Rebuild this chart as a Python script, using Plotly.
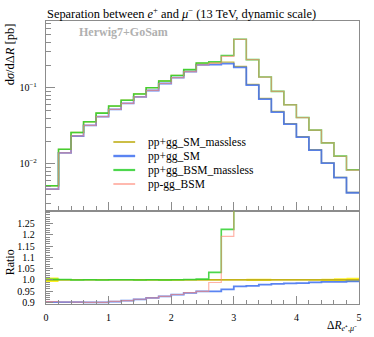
import plotly.graph_objects as go

# ---- data ----
edges = [0.0, 0.2, 0.4, 0.6, 0.8, 1.0, 1.2, 1.4, 1.6, 1.8, 2.0, 2.2, 2.4, 2.6, 2.8,
         3.0, 3.2, 3.4, 3.6, 3.8, 4.0, 4.2, 4.4, 4.6, 4.8, 5.0]

sm_massless = [0.00515, 0.01554, 0.02591, 0.03587, 0.04675, 0.05785, 0.06900, 0.08358,
               0.1009, 0.1237, 0.1463, 0.1744, 0.2127, 0.2146, 0.2189, 0.1929, 0.1119,
               0.07307, 0.04909, 0.03396, 0.02287, 0.01536, 0.01031, 0.00665, 0.00420]

sm = [0.00464, 0.01399, 0.02332, 0.03225, 0.04203, 0.05224, 0.06258, 0.07631, 0.09273,
      0.11455, 0.13664, 0.16429, 0.20164, 0.20344, 0.20949, 0.18731, 0.10888, 0.07146,
      0.04821, 0.03342, 0.02253, 0.01518, 0.01021, 0.00659, 0.00417]

bsm_massless = [0.00516, 0.01556, 0.02588, 0.03587, 0.04670, 0.05785, 0.06900, 0.08350,
                0.1009, 0.12358, 0.1463, 0.17457, 0.21334, 0.22168, 0.26815, 0.4385,
                0.2364, 0.1397, 0.0902, 0.0602, 0.0409, 0.02788, 0.01894, 0.01264, 0.00833]

bsm = [0.00465, 0.01400, 0.02333, 0.03226, 0.04205, 0.05226, 0.06260, 0.07633, 0.09276,
       0.11460, 0.13670, 0.16435, 0.20170, 0.21202, 0.26137, 0.4370, 0.2358, 0.1392,
       0.0900, 0.0600, 0.0408, 0.02780, 0.01890, 0.01260, 0.00830]

ref_err = [0.010, 0.003, 0.002, 0.002, 0.002, 0.002, 0.002, 0.003, 0.003, 0.004, 0.004,
           0.003, 0.003, 0.003, 0.003, 0.003, 0.005, 0.005, 0.003, 0.003, 0.003, 0.004,
           0.005, 0.007, 0.009]

names = ["pp+gg_SM_massless", "pp+gg_SM", "pp+gg_BSM_massless", "pp-gg_BSM"]
colors = ["#c4b428", "#3f6ff0", "#2ed12e", "#ff8a78"]
widths = [1.3, 1.8, 1.6, 1.2]
opac = [0.9, 0.85, 0.85, 0.65]

FONT = "Liberation Serif"
GRAY = "#8c8c8c"

# layout geometry (pixels)
W, H = 374, 337
ML, MR, MT, MB = 46, 12, 21, 33
PW, PH = W - ML - MR, H - MT - MB


def step(v):
    return list(v) + [v[-1]]


def px_x(x):
    return (x - ML) / PW


def px_y(y):
    return 1 - (y - MT) / PH


fig = go.Figure()

allseries = [sm_massless, sm, bsm_massless, bsm]
for nm, vals, c, w, o in zip(names, allseries, colors, widths, opac):
    fig.add_trace(go.Scatter(x=edges, y=step(vals), mode="lines", name=nm,
                             line=dict(shape="hv", color=c, width=w), opacity=o,
                             xaxis="x", yaxis="y", showlegend=False))

# ratio band
lo = [1 - e for e in ref_err]
hi = [1 + e for e in ref_err]
fig.add_trace(go.Scatter(x=edges, y=step(lo), mode="lines", line=dict(shape="hv", width=0,
                         color="rgba(0,0,0,0)"), showlegend=False, xaxis="x2", yaxis="y2",
                         hoverinfo="skip"))
fig.add_trace(go.Scatter(x=edges, y=step(hi), mode="lines", line=dict(shape="hv", width=0,
                         color="rgba(0,0,0,0)"), fill="tonexty",
                         fillcolor="rgba(255,240,0,0.85)", showlegend=False,
                         xaxis="x2", yaxis="y2", hoverinfo="skip"))

ratio_colors = ["#a89418", "#3f6ff0", "#2ed12e", "#ff8a78"]
for nm, vals, c, w, o in zip(names, allseries, ratio_colors, widths, opac):
    r = [v / s for v, s in zip(vals, sm_massless)]
    fig.add_trace(go.Scatter(x=edges, y=step(r), mode="lines", showlegend=False,
                             line=dict(shape="hv", color=c, width=w), opacity=o,
                             xaxis="x2", yaxis="y2"))

split = 93.5 / PH

main_minor = [0.003, 0.004, 0.005, 0.006, 0.007, 0.008, 0.009,
              0.02, 0.03, 0.04, 0.05, 0.06, 0.07, 0.08, 0.09,
              0.2, 0.3, 0.4, 0.5, 0.6, 0.7]
ratio_ticks = [0.9, 0.95, 1.0, 1.05, 1.1, 1.15, 1.2, 1.25]
ratio_text = ["0.9", "0.95", "1.0", "1.05", "1.1", "1.15", "1.2", "1.25"]
ratio_minor = [round(0.89 + 0.01 * i, 2) for i in range(43)]
x_major = [0, 1, 2, 3, 4, 5]
x_minor = edges

axcommon = dict(showline=True, linecolor=GRAY, linewidth=1.3, mirror=True,
                showgrid=False, zeroline=False, tickcolor=GRAY,
                tickfont=dict(family=FONT, size=10, color="black"))

fig.update_layout(
    width=W, height=H,
    margin=dict(l=ML, r=MR, t=MT, b=MB),
    paper_bgcolor="white", plot_bgcolor="white",
    font=dict(family=FONT, size=11, color="black"),
    xaxis=dict(domain=[0, 1], anchor="y", range=[0, 5], showticklabels=False,
               ticks="inside", tickvals=x_major, ticklen=8,
               minor=dict(ticks="inside", tickvals=x_minor, ticklen=4, tickcolor=GRAY),
               **axcommon),
    yaxis=dict(domain=[split, 1], anchor="x", type="log", range=[-2.614, -0.1175],
               ticks="inside", tickvals=[0.01, 0.1],
               ticktext=["10<sup>−2</sup>", "10<sup>−1</sup>"], ticklen=9,
               ticklabelstandoff=6,
               minor=dict(ticks="inside", tickvals=main_minor, ticklen=5, tickcolor=GRAY),
               **axcommon),
    xaxis2=dict(domain=[0, 1], anchor="y2", range=[0, 5], matches="x",
                ticks="inside", tickvals=x_major, ticktext=[str(v) for v in x_major],
                ticklen=8, ticklabelstandoff=4,
                minor=dict(ticks="inside", tickvals=x_minor, ticklen=4, tickcolor=GRAY),
                **axcommon),
    yaxis2=dict(domain=[0, split], anchor="x2", range=[0.892, 1.309],
                ticks="inside", tickvals=ratio_ticks, ticktext=ratio_text, ticklen=7,
                ticklabelstandoff=8,
                minor=dict(ticks="inside", tickvals=ratio_minor, ticklen=3.5, tickcolor=GRAY),
                **axcommon),
    showlegend=False,
)

# title
fig.add_annotation(text="Separation between <i>e</i><sup>+</sup> and <i>μ</i><sup>−</sup> (13 TeV, dynamic scale)",
                   xref="paper", yref="paper", x=px_x(45), y=px_y(12.5),
                   xanchor="left", yanchor="middle", showarrow=False,
                   font=dict(family=FONT, size=12.4))

# legend (manual, to match the compact Rivet-style spacing)
leg_y = [142, 156, 170, 184]
for nm, c, w, o, yy in zip(names, colors, widths, opac, leg_y):
    fig.add_shape(type="line", xref="paper", yref="paper",
                  x0=px_x(114), x1=px_x(136), y0=px_y(yy), y1=px_y(yy),
                  line=dict(color=c, width=w + 0.6), opacity=o)
    fig.add_annotation(text=nm, xref="paper", yref="paper", x=px_x(147), y=px_y(yy),
                       xanchor="left", yanchor="middle", showarrow=False,
                       font=dict(family=FONT, size=11.5))

fig.add_annotation(text="<b>Herwig7+GoSam</b>", xref="paper", yref="paper",
                   x=px_x(77), y=px_y(32.5), xanchor="left", yanchor="middle",
                   showarrow=False, font=dict(family=FONT, size=12, color="#b0b0b0"))
fig.add_annotation(text="d<i>σ</i>/dΔ<i>R</i> [pb]", xref="paper", yref="paper",
                   x=px_x(10), y=px_y(21), xanchor="center", yanchor="top", textangle=-90,
                   showarrow=False, font=dict(family=FONT, size=12.5))
fig.add_annotation(text="Ratio", xref="paper", yref="paper",
                   x=px_x(10), y=px_y(262), xanchor="center", yanchor="middle",
                   textangle=-90, showarrow=False, font=dict(family=FONT, size=12))
fig.add_annotation(text="Δ<i>R</i><sub><i>e</i>⁺,<i>μ</i>⁻</sub>", xref="paper", yref="paper",
                   x=1.0, y=px_y(326), xanchor="right", yanchor="middle",
                   showarrow=False, font=dict(family=FONT, size=11.5))

fig.write_html("out.html", post_script="document.body.style.margin='0';",
               config={"displayModeBar": False})
